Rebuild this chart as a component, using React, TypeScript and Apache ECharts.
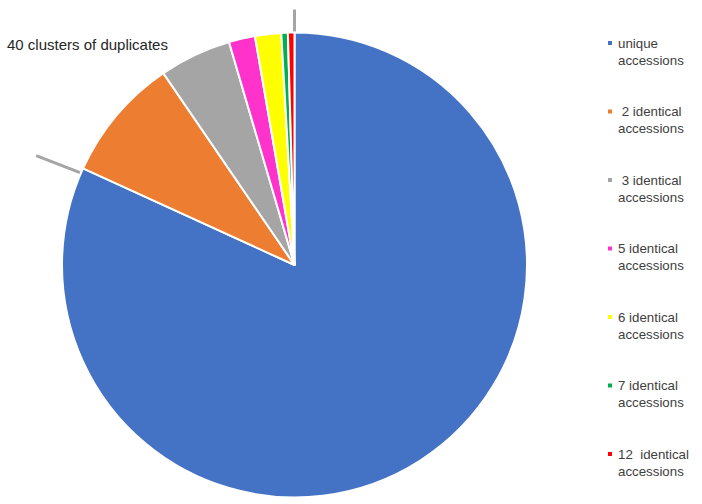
import React, { useEffect, useRef } from "react";
import * as echarts from "echarts";

const categories = [
  "unique accessions",
  " 2 identical accessions",
  " 3 identical accessions",
  "5 identical accessions",
  "6 identical accessions",
  "7 identical accessions",
  "12  identical accessions",
];
const legendLines = [
  "unique\naccessions",
  " 2 identical\naccessions",
  " 3 identical\naccessions",
  "5 identical\naccessions",
  "6 identical\naccessions",
  "7 identical\naccessions",
  "12  identical\naccessions",
];
const values = [180, 19, 11, 4, 4, 1, 1];
const colors = ["#4472C4", "#ED7D31", "#A5A5A5", "#FF33CC", "#FFFF00", "#00B050", "#FF0000"];
const duplicatesLabel = "40 clusters of duplicates";
const uniqueLabel = "180 accessions";

export default function App() {
  const ref = useRef<HTMLDivElement>(null);
  useEffect(() => {
    if (!ref.current) return;
    const chart = echarts.init(ref.current, null, { renderer: "svg" });
    const cx = 294.5;
    const cy = 265;
    const R = 232.5;
    const total = values.reduce((a, b) => a + b, 0);
    const dupAngle = (2 * Math.PI * values[0]) / total;
    const pt = (theta: number, r: number) => [cx + r * Math.sin(theta), cy - r * Math.cos(theta)];
    const a1 = pt(0, R - 1);
    const a2 = pt(0, R + 23);
    const b1 = pt(dupAngle - 0.022, R + 1);
    const b2 = pt(dupAngle - 0.028, R + 48);
    chart.setOption({
      animation: false,
      backgroundColor: "#ffffff",
      color: colors,
      legend: {
        orient: "vertical",
        left: 606,
        top: 17.5,
        padding: 0,
        itemGap: 17.5,
        itemWidth: 6,
        itemHeight: 6,
        icon: "rect",
        data: categories,
        formatter: (name: string) => " \n" + legendLines[categories.indexOf(name)],
        textStyle: {
          fontFamily: "Liberation Sans",
          fontSize: 13.3,
          color: "#404040",
          lineHeight: 17,
        },
      },
      series: [
        {
          type: "pie",
          center: [cx, cy],
          radius: R,
          startAngle: 90,
          clockwise: true,
          label: { show: false },
          labelLine: { show: false },
          emphasis: { disabled: true },
          itemStyle: { borderColor: "#ffffff", borderWidth: 2 },
          data: categories.map((c, i) => ({ name: c, value: values[i] })),
        },
      ],
      graphic: [
        {
          type: "line",
          shape: { x1: a1[0], y1: a1[1], x2: a2[0], y2: a2[1] },
          style: { stroke: "#A5A5A5", lineWidth: 3 },
        },
        {
          type: "line",
          shape: { x1: b1[0], y1: b1[1], x2: b2[0], y2: b2[1] },
          style: { stroke: "#A5A5A5", lineWidth: 3 },
        },
        {
          type: "text",
          left: 7,
          top: 37,
          style: {
            text: duplicatesLabel,
            fontFamily: "Liberation Sans",
            fontSize: 15,
            fill: "#262626",
          },
        },
        {
          type: "text",
          x: 323.5,
          y: 363,
          style: {
            text: uniqueLabel,
            fontFamily: "Liberation Sans",
            fontSize: 14.6,
            fill: "#1a1f33",
            align: "center",
            verticalAlign: "middle",
          },
        },
      ],
    });
    return () => chart.dispose();
  }, []);
  return (
    <div
      ref={ref}
      style={{ position: "fixed", left: 0, top: 0, width: 702, height: 504, background: "#fff" }}
    />
  );
}
